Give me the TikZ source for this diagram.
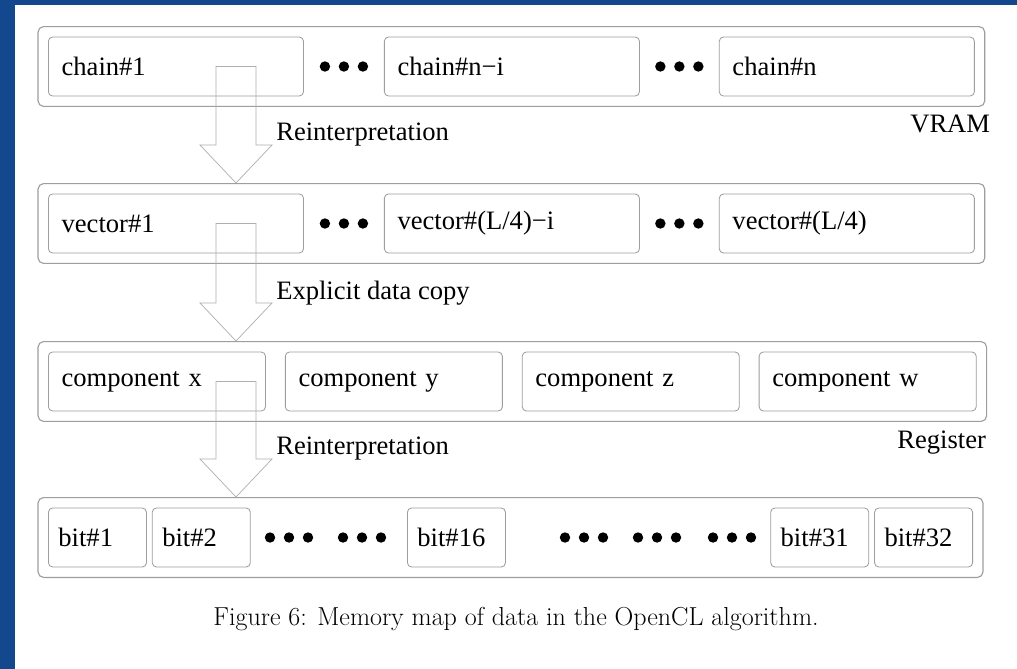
\documentclass[tikz,border=0pt]{standalone}
\usepackage{fontspec}
\newfontfamily\timesfont{Liberation Serif}
\usepackage{tikz}
\usetikzlibrary{
    calc,
    positioning,
    fit
}
\definecolor{slideblue}{RGB}{20,72,142}
\definecolor{boxgray}{RGB}{158,158,158}
\definecolor{arrowgray}{RGB}{175,175,175}
\tikzset{
    cell/.style={draw=boxgray, line width=0.6pt, rounded corners=3pt,
        minimum height=1.475cm, inner xsep=0.33cm, inner ysep=0pt,
        align=left, font=\timesfont\fontsize{18.9}{22}\selectfont},
    bitcell/.style={cell, inner xsep=0.25cm, text width=1.95cm},
    bank/.style={draw=boxgray, line width=0.8pt, rounded corners=4pt, inner sep=0.25cm},
    memlabel/.style={inner sep=0pt, font=\timesfont\fontsize{18.9}{22}\selectfont},
    hollow/.style={draw=arrowgray, line width=0.5pt}
}
% three dots between cells
\newcommand\dotgroup[1]{\foreach \k in {-19,0,19} \fill (#1) ++(\k,0) circle (0.13cm);}
% hollow block arrow: top of shaft, tip
\newcommand\blockarrow[2]{
    \draw[hollow] ($(#1)+(-20,0)$) -- ($(#1)+(20,0)$) -- ($(#2)+(20,-38)$)
        -- ($(#2)+(36,-38)$) -- (#2) -- ($(#2)+(-36,-38)$) -- ($(#2)+(-20,-38)$) -- cycle;
}

\begin{document}
\begin{tikzpicture}[x=0.025cm, y=-0.025cm]
    \useasboundingbox (0,0) rectangle (1017,669);
    \fill[slideblue] (0,0) rectangle (1017,669);
    \fill[white] (15,5) rectangle (1017,669);

    % VRAM
    \node[cell, text width=5.715cm, anchor=west] (chain1) at (48,66.5) {chain\#1};
    \node[cell, text width=5.715cm, right=2cm of chain1] (chainni) {chain\#n−i};
    \node[cell, text width=5.715cm, right=1.975cm of chainni] (chainn) {chain\#n};
    \node[bank, fit=(chain1)(chainn)] (vram) {};
    \coordinate (d1) at ($(chain1.east)!0.5!(chainni.west)$);
    \coordinate (d2) at ($(chainni.east)!0.5!(chainn.west)$);
    \dotgroup{d1}
    \dotgroup{d2}
    \node[memlabel, anchor=base east] at ($(vram.south east)+(5,26)$) {VRAM};

    % vectors
    \node[cell, text width=5.715cm, anchor=west] (vec1) at (48,223.5) {vector\#1};
    \node[cell, text width=5.715cm, right=2cm of vec1] (vecli) {vector\#(L/4)−i};
    \node[cell, text width=5.715cm, right=1.975cm of vecli] (vecl) {vector\#(L/4)};
    \node[bank, fit=(vec1)(vecl)] (vecs) {};
    \coordinate (d3) at ($(vec1.east)!0.5!(vecli.west)$);
    \coordinate (d4) at ($(vecli.east)!0.5!(vecl.west)$);
    \dotgroup{d3}
    \dotgroup{d4}

    % register
    \node[cell, text width=4.765cm, anchor=west] (compx) at (48,381.5) {component x};
    \node[cell, text width=4.765cm, right=0.475cm of compx] (compy) {component y};
    \node[cell, text width=4.765cm, right=0.475cm of compy] (compz) {component z};
    \node[cell, text width=4.765cm, right=0.475cm of compz] (compw) {component w};
    \node[bank, fit=(compx)(compw)] (regs) {};
    \node[memlabel, anchor=base east] at ($(regs.south east)+(-1,27)$) {Register};

    % bits
    \node[bitcell, anchor=west] (bit1) at (48,537.5) {bit\#1};
    \node[bitcell, right=0.125cm of bit1] (bit2) {bit\#2};
    \node[bitcell, anchor=west] (bit16) at (407,537.5) {bit\#16};
    \node[bitcell, anchor=east] (bit32) at (973,537.5) {bit\#32};
    \node[bitcell, left=0.125cm of bit32] (bit31) {bit\#31};
    \node[bank, fit=(bit1)(bit32)] (bits) {};
    \foreach \x in {289,362,584,657,732} {
        \coordinate (b\x) at (\x,537.5);
        \dotgroup{b\x}
    }

    % arrows between the levels
    \coordinate (s1) at (236,66.5);
    \coordinate (t1) at (s1 |- vecs.north);
    \blockarrow{s1}{t1}
    \node[memlabel, anchor=west] at ($(t1)+(40,-48)$) {Reinterpretation};
    \coordinate (s2) at (236,223.5);
    \coordinate (t2) at (s2 |- regs.north);
    \blockarrow{s2}{t2}
    \node[memlabel, anchor=west] at ($(t2)+(40,-48)$) {Explicit data copy};
    \coordinate (s3) at (236,381.5);
    \coordinate (t3) at (s3 |- bits.north);
    \blockarrow{s3}{t3}
    \node[memlabel, anchor=west] at ($(t3)+(40,-48)$) {Reinterpretation};

    \node[font=\fontsize{18.5}{21}\selectfont] (caption) at (516,619) {Figure 6: Memory map of data in the OpenCL algorithm.};
\end{tikzpicture}
\end{document}
